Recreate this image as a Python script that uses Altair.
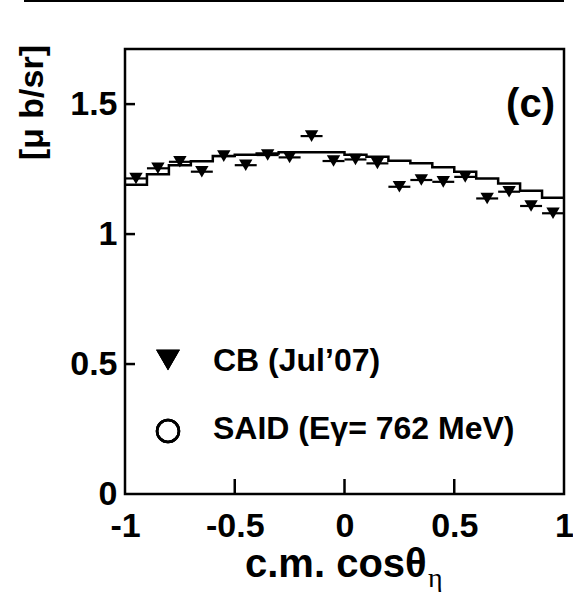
import altair as alt
import pandas as pd

# ---- data ----
cos_bins = [-0.95, -0.85, -0.75, -0.65, -0.55, -0.45, -0.35, -0.25, -0.15, -0.05,
            0.05, 0.15, 0.25, 0.35, 0.45, 0.55, 0.65, 0.75, 0.85, 0.95]
cb_values = [1.214, 1.253, 1.278, 1.240, 1.300, 1.265, 1.304, 1.295, 1.377, 1.281,
             1.287, 1.272, 1.182, 1.208, 1.201, 1.220, 1.137, 1.163, 1.108, 1.080]
half_width = 0.05

said_edges = [-1.0, -0.9, -0.8, -0.7, -0.6, -0.5, -0.4, -0.3, -0.2, -0.1,
              0.0, 0.1, 0.2, 0.3, 0.4, 0.5, 0.6, 0.7, 0.8, 0.9, 1.0]
said_values = [1.19, 1.23, 1.265, 1.28, 1.30, 1.305, 1.31, 1.315, 1.315, 1.315,
               1.305, 1.297, 1.282, 1.272, 1.257, 1.24, 1.214, 1.195, 1.167, 1.14]

x_ticks = [-1, -0.5, 0, 0.5, 1]
y_ticks = [0, 0.5, 1, 1.5]
x_inner_ticks = [-0.5, 0, 0.5]
y_inner_ticks = [0.5, 1, 1.5]

legend_cb = "CB (Jul\u201907)"
legend_said = "SAID (E\u03b3= 762 MeV)"
panel_label = "(c)"
x_title_main = "c.m. cos\u03b8"
x_title_sub = "\u03b7"
y_title = "[\u03bc b/sr]"

# ---- tables ----
df_cb = pd.DataFrame({
    "cos": cos_bins,
    "val": cb_values,
    "lo": [c - half_width for c in cos_bins],
    "hi": [c + half_width for c in cos_bins],
})
df_said = pd.DataFrame({
    "edge": said_edges,
    "val": said_values + [said_values[-1]],
})
df_xt = pd.DataFrame({"t": x_inner_ticks})
df_yt = pd.DataFrame({"t": y_inner_ticks})

W, H = 439, 445
FONT = "Liberation Sans"

xscale = alt.Scale(domain=[-1, 1], nice=False, zero=False)
yscale = alt.Scale(domain=[0, 1.712], nice=False, zero=False)

xaxis = alt.Axis(values=x_ticks, labelExpr="'' + datum.value", title=None,
                 domain=False, ticks=False, grid=False, labelFont=FONT,
                 labelFontSize=34, labelFontWeight="bold", labelColor="black",
                 labelPadding=15, labelFlush=False, labelOverlap=False)
yaxis = alt.Axis(values=y_ticks, labelExpr="'' + datum.value", title=None,
                 domain=False, ticks=False, grid=False, labelFont=FONT,
                 labelFontSize=34, labelFontWeight="bold", labelColor="black",
                 labelPadding=8, labelFlush=False, labelOverlap=False)

said_line = alt.Chart(df_said).mark_line(
    interpolate="step-after", color="black", strokeWidth=2.5
).encode(
    x=alt.X("edge:Q", scale=xscale, axis=xaxis),
    y=alt.Y("val:Q", scale=yscale, axis=yaxis),
)

err = alt.Chart(df_cb).mark_rule(color="black", strokeWidth=2.2).encode(
    x=alt.X("lo:Q", scale=xscale),
    x2="hi:Q",
    y=alt.Y("val:Q", scale=yscale),
)

pts = alt.Chart(df_cb).mark_point(
    shape="triangle-down", filled=True, size=180, color="black", opacity=1
).encode(
    x=alt.X("cos:Q", scale=xscale),
    y=alt.Y("val:Q", scale=yscale),
)

xt = alt.Chart(df_xt).mark_rule(color="black", strokeWidth=2.5).encode(
    x=alt.X("t:Q", scale=xscale),
    y=alt.value(H),
    y2=alt.value(H - 15),
)
yt = alt.Chart(df_yt).mark_rule(color="black", strokeWidth=2.5).encode(
    y=alt.Y("t:Q", scale=yscale),
    x=alt.value(0),
    x2=alt.value(10),
)

top_line = alt.Chart(df_xt).mark_rule(color="black", strokeWidth=2).encode(
    x=alt.value(-101), x2=alt.value(W), y=alt.value(-48)
)

leg_tri = alt.Chart(df_xt).mark_point(
    shape="triangle-down", filled=True, size=560, color="black", opacity=1
).encode(x=alt.value(43), y=alt.value(311))
leg_circ = alt.Chart(df_xt).mark_point(
    shape="circle", filled=False, size=480, color="black", strokeWidth=2.5, opacity=1
).encode(x=alt.value(43), y=alt.value(382))

def label(text, x, y, size, align="left", weight="bold", font=FONT, angle=0, baseline="alphabetic"):
    return alt.Chart(pd.DataFrame({"s": [text]})).mark_text(
        align=align, baseline=baseline, font=font, fontSize=size,
        fontWeight=weight, color="black", angle=angle
    ).encode(text="s:N", x=alt.value(x), y=alt.value(y))

leg_t1 = label(legend_cb, 88, 322, 32)
leg_t2 = label(legend_said, 88, 390, 32)
panel = label(panel_label, 430, 68, 40, align="right")
xt_main = label(x_title_main, 120, 528, 40)
xt_sub = label(x_title_sub, 303, 538, 28, weight="normal", font="Liberation Serif")
ylab = label(y_title, -92, -4, 34, align="right", angle=270, baseline="middle")

chart = alt.layer(
    said_line, err, pts, xt, yt, top_line, leg_tri, leg_circ,
    leg_t1, leg_t2, panel, xt_main, xt_sub, ylab
).properties(
    width=W, height=H,
    autosize=alt.AutoSizeParams(type="none"),
    padding={"left": 125, "top": 49, "right": 9, "bottom": 98},
    background="white",
).configure_view(stroke="black", strokeWidth=2.5)

chart.save("out.html", embed_options={"renderer": "svg", "actions": False})
